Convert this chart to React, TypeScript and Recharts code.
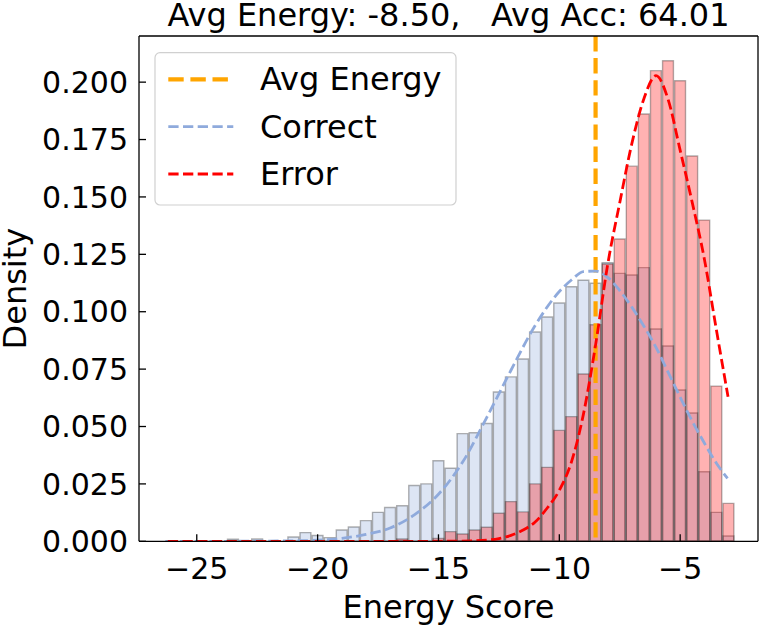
import React from 'react';
import { ComposedChart, Bar, Line, XAxis, YAxis, ReferenceLine } from 'recharts';

// ---------- data ----------
const binCenters = [
  -26.02, -25.52, -25.02, -24.52, -24.02, -23.52, -23.02, -22.52, -22.02, -21.52,
  -21.02, -20.52, -20.02, -19.52, -19.02, -18.52, -18.02, -17.52, -17.02, -16.52,
  -16.02, -15.52, -15.02, -14.52, -14.02, -13.52, -13.02, -12.52, -12.02, -11.52,
  -11.02, -10.52, -10.02, -9.52, -9.02, -8.52, -8.02, -7.52, -7.02, -6.52,
  -6.02, -5.52, -5.02, -4.52, -4.02, -3.52, -3.02,
];
const correctDensity = [
  0, 0, 0, 0, 0, 0.0009, 0, 0.001, 0, 0,
  0.0019, 0.0038, 0.0025, 0.0016, 0.0049, 0.0062, 0.009, 0.0126, 0.0147, 0.0155,
  0.0243, 0.025, 0.0351, 0.0318, 0.0469, 0.0473, 0.0513, 0.065, 0.0716, 0.0794,
  0.0912, 0.0977, 0.1038, 0.1109, 0.1137, 0.1124, 0.1213, 0.1167, 0.116, 0.1192,
  0.0925, 0.0851, 0.0659, 0.0559, 0.0303, 0.0126, 0.0023,
];
const errorDensity = [
  0, 0, 0, 0, 0, 0, 0, 0, 0, 0,
  0, 0, 0, 0, 0, 0, 0, 0, 0, 0.001,
  0, 0, 0.0012, 0.0042, 0.0032, 0.0049, 0.0061, 0.0122, 0.0173, 0.0128,
  0.025, 0.0322, 0.0483, 0.0543, 0.0729, 0.0943, 0.1208, 0.1317, 0.1634, 0.1861,
  0.205, 0.2093, 0.2006, 0.1678, 0.1399, 0.0676, 0.0165,
];

const correctKdeX = [
  -26.3, -24, -22, -21, -20, -19, -18, -17, -16, -15, -14, -13, -12, -11, -10,
  -9.5, -9, -8.5, -8, -7.5, -7, -6.5, -6, -5.5, -5, -4.5, -4, -3.5, -3.04,
];
const correctKdeY = [
  0, 0, 0.0001, 0.0002, 0.0005, 0.0013, 0.003, 0.0058, 0.0115, 0.0205, 0.0345, 0.054, 0.0745, 0.094, 0.1088,
  0.1138, 0.1175, 0.1177, 0.115, 0.1092, 0.102, 0.0937, 0.0845, 0.0737, 0.0628, 0.0523, 0.0428, 0.034, 0.0274,
];
const errorKdeX = [
  -26.2, -20, -15, -14, -13, -12.5, -12, -11.5, -11, -10.5, -10, -9.5, -9, -8.5,
  -8, -7.5, -7, -6.5, -6, -5.5, -5, -4.5, -4, -3.5, -3.02,
];
const errorKdeY = [
  0, 0, 0, 0.0001, 0.0005, 0.0012, 0.0026, 0.0049, 0.0084, 0.0145, 0.0222, 0.0345, 0.0555, 0.0855,
  0.1205, 0.1475, 0.1732, 0.1928, 0.2028, 0.1925, 0.1703, 0.1475, 0.123, 0.092, 0.063,
];

const xTicks = [-25, -20, -15, -10, -5];
const yTicks = [0, 0.025, 0.05, 0.075, 0.1, 0.125, 0.15, 0.175, 0.2];
const avgEnergy = -8.5;
const avgAcc = 64.01;
const legendLabels = ['Avg Energy', 'Correct', 'Error'];

// ---------- layout / style ----------
const W = 761;
const H = 627;
const M_TOP = 35;
const M_RIGHT = 2;
const Y_AXIS_W = 139;
const X_AXIS_H = 85.7;
const X_DOMAIN: [number, number] = [-27.39, -1.78];
const Y_DOMAIN: [number, number] = [0, 0.2201];
const BIN_WIDTH = 0.5;
const PLOT_W = W - Y_AXIS_W - M_RIGHT - 1;
const BAR_PX = (BIN_WIDTH * PLOT_W) / (X_DOMAIN[1] - X_DOMAIN[0]);

const FONT = '"DejaVu Sans", sans-serif';
const BLUE = '#8faadc';
const RED = '#ff0000';
const ORANGE = '#ffa500';

const histData = binCenters.map((x, i) => ({ x, correct: correctDensity[i], error: errorDensity[i] }));
const correctKde = correctKdeX.map((x, i) => ({ x, y: correctKdeY[i] }));
const errorKde = errorKdeX.map((x, i) => ({ x, y: errorKdeY[i] }));

const fmtX = (v: number) => String(v).replace('-', '\u2212');
const fmtY = (v: number) => v.toFixed(3);

export default function App() {
  const title = `Avg Energy: ${avgEnergy.toFixed(2)},   Avg Acc: ${avgAcc.toFixed(2)}`;
  const legendColors = [ORANGE, BLUE, RED];
  const legendDash = ['15.4 6.7', '10.3 4.4', '10.3 4.4'];
  const legendW = [4.2, 2.8, 2.8];
  return (
    <div style={{ position: 'absolute', left: 0, top: 0, width: W, height: H, background: '#fff' }}>
      <ComposedChart
        width={W}
        height={H}
        data={histData}
        margin={{ top: M_TOP, right: M_RIGHT, bottom: 0, left: 0 }}
        barCategoryGap={0}
        barGap={0}
      >
        <XAxis
          xAxisId="main"
          dataKey="x"
          type="number"
          domain={X_DOMAIN}
          allowDataOverflow
          ticks={xTicks}
          tickFormatter={fmtX}
          height={X_AXIS_H}
          tickSize={-7}
          tickMargin={23}
          axisLine={{ stroke: '#000', strokeWidth: 1.3 }}
          tickLine={{ stroke: '#000', strokeWidth: 1.3 }}
          tick={{ fill: '#000', fontSize: 30, fontFamily: FONT }}
          interval={0}
        />
        <XAxis
          xAxisId="top"
          dataKey="x"
          type="number"
          orientation="top"
          domain={X_DOMAIN}
          allowDataOverflow
          height={1}
          tick={false}
          tickLine={false}
          axisLine={{ stroke: '#000', strokeWidth: 1.3 }}
        />
        <XAxis
          xAxisId="kde"
          dataKey="x"
          type="number"
          orientation="top"
          domain={X_DOMAIN}
          allowDataOverflow
          height={0}
          hide
        />
        <YAxis
          yAxisId="left"
          type="number"
          domain={Y_DOMAIN}
          allowDataOverflow
          ticks={yTicks}
          tickFormatter={fmtY}
          width={Y_AXIS_W}
          tickSize={-7}
          tickMargin={18}
          axisLine={{ stroke: '#000', strokeWidth: 1.3 }}
          tickLine={{ stroke: '#000', strokeWidth: 1.3 }}
          tick={{ fill: '#000', fontSize: 30, fontFamily: FONT }}
          interval={0}
        />
        <YAxis
          yAxisId="right"
          type="number"
          orientation="right"
          domain={Y_DOMAIN}
          allowDataOverflow
          width={1}
          tick={false}
          tickLine={false}
          axisLine={{ stroke: '#000', strokeWidth: 1.3 }}
        />
        <Bar
          xAxisId="main"
          yAxisId="left"
          dataKey="correct"
          barSize={BAR_PX}
          fill={BLUE}
          fillOpacity={0.3}
          stroke="#000"
          strokeOpacity={0.3}
          strokeWidth={1.4}
          isAnimationActive={false}
        />
        <Bar
          xAxisId="top"
          yAxisId="left"
          dataKey="error"
          barSize={BAR_PX}
          fill={RED}
          fillOpacity={0.3}
          stroke="#000"
          strokeOpacity={0.3}
          strokeWidth={1.4}
          isAnimationActive={false}
        />
        <ReferenceLine
          xAxisId="kde"
          yAxisId="left"
          x={avgEnergy}
          stroke={ORANGE}
          strokeWidth={4.2}
          strokeDasharray="15.4 6.7"
        />
        <Line
          xAxisId="kde"
          yAxisId="left"
          data={correctKde}
          dataKey="y"
          type="monotone"
          stroke={BLUE}
          strokeWidth={2.8}
          strokeDasharray="10.3 4.4"
          dot={false}
          activeDot={false}
          isAnimationActive={false}
        />
        <Line
          xAxisId="kde"
          yAxisId="left"
          data={errorKde}
          dataKey="y"
          type="monotone"
          stroke={RED}
          strokeWidth={2.8}
          strokeDasharray="10.3 4.4"
          dot={false}
          activeDot={false}
          isAnimationActive={false}
        />
      </ComposedChart>
      <svg
        width={W}
        height={H}
        style={{ position: 'absolute', left: 0, top: 0, pointerEvents: 'none' }}
        fontFamily={FONT}
      >
        <text x={448.5} y={25.5} textAnchor="middle" fontSize={32} fill="#000" style={{ whiteSpace: 'pre' }}>
          {title}
        </text>
        <text x={448.5} y={618} textAnchor="middle" fontSize={32} fill="#000">
          Energy Score
        </text>
        <text x={26} y={288.6} textAnchor="middle" fontSize={32} fill="#000" transform="rotate(-90 26 288.6)">
          Density
        </text>
        <rect x={155} y={52.7} width={301} height={152.3} rx={5} fill="#fff" fillOpacity={0.8} stroke="#d0d0d0" strokeWidth={1.2} />
        {legendLabels.map((lab, i) => {
          const ly = 79.3 + i * 47.35;
          return (
            <g key={lab}>
              <line x1={168.3} x2={233.3} y1={ly} y2={ly} stroke={legendColors[i]} strokeWidth={legendW[i]} strokeDasharray={legendDash[i]} />
              <text x={260} y={ly + 11} fontSize={32} fill="#000">
                {lab}
              </text>
            </g>
          );
        })}
      </svg>
    </div>
  );
}
